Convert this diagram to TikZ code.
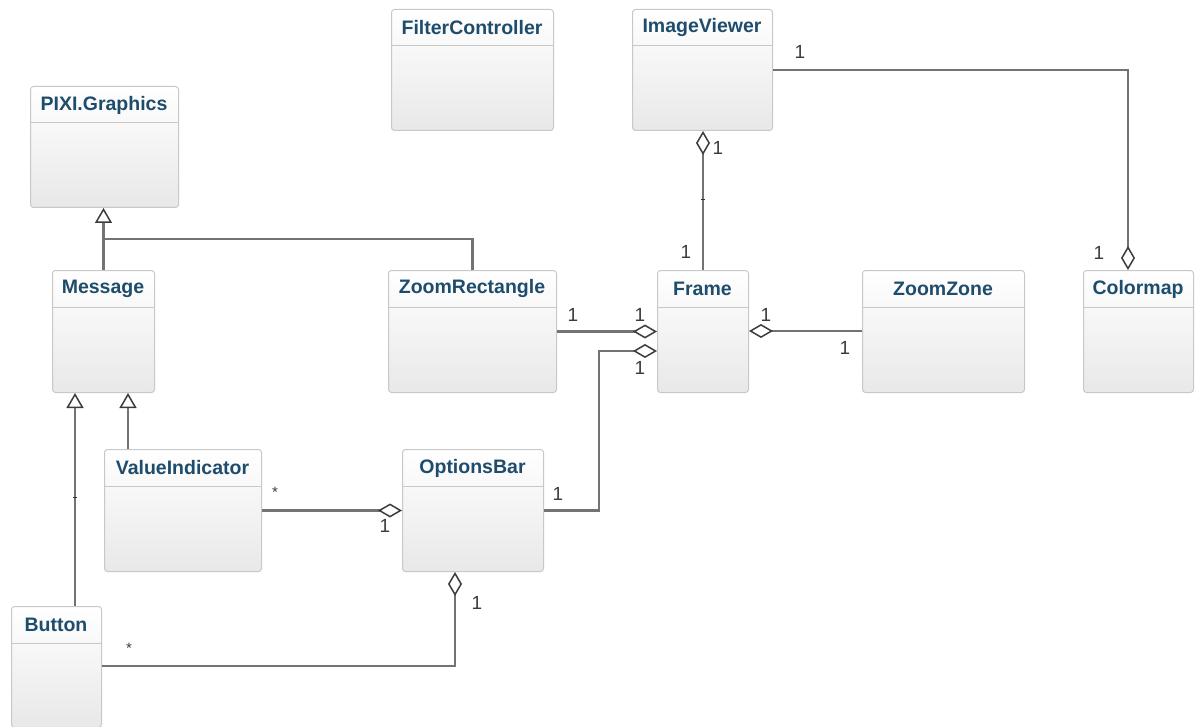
\documentclass[tikz,border=0pt]{standalone}
\usepackage{fontspec}
\setmainfont{Liberation Sans}
\usetikzlibrary{arrows.meta,calc}

\definecolor{titleblue}{RGB}{30,76,108}
\definecolor{edgegray}{RGB}{115,115,115}
\definecolor{boxline}{RGB}{200,200,200}
\definecolor{tipline}{RGB}{60,60,60}
\definecolor{multgray}{RGB}{60,60,60}

\tikzset{
  classbox/.style={draw=boxline, line width=1pt, rounded corners=3pt,
    top color=white, bottom color=black!9, anchor=north west, inner sep=0pt},
  classtitle/.style={font=\bfseries\fontsize{19.5}{19.5}\selectfont, text=titleblue, inner sep=0pt},
  assoc/.style={draw=edgegray, line width=2.6pt},
  agg/.style={assoc, -{Diamond[fill=white, color=tipline, length=24pt, width=14pt, line width=1.5pt]}},
  gen/.style={assoc, -{Triangle[fill=white, color=tipline, length=15pt, width=17pt, line width=1.5pt]}},
  mult/.style={font=\fontsize{19}{19}\selectfont, text=multgray, inner sep=0pt},
  star/.style={font=\fontsize{15}{15}\selectfont, text=multgray, inner sep=0pt},
  tick/.style={draw=black!80, line width=1pt},
}

% \umlclass{name}{x1}{y1}{x2}{y2}{title}: class box with an empty body
\newcommand\umlclass[6]{%
  \node[classbox, minimum width={(#4-#2)*1pt}, minimum height={(#5-#3)*1pt}] (#1) at (#2,#3) {};
  \draw[boxline, line width=1pt] (#2,#3+37) -- (#4,#3+37);
  \node[classtitle] (#1-title) at ({(#2+#4)/2},#3+19) {#6};
}

\begin{document}
\begin{tikzpicture}[x=1pt, y=-1pt]
  \useasboundingbox[fill=white] (0,0) rectangle (1198,727);

  % classes
  \umlclass{filter}{391}{9}{553}{130}{FilterController}
  \umlclass{viewer}{632}{9}{772}{130}{ImageViewer}
  \umlclass{pixi}{30}{86}{178}{207}{PIXI.Graphics}
  \umlclass{message}{52}{270}{154}{392}{Message}
  \umlclass{zoomrect}{388}{270}{556}{392}{ZoomRectangle}
  \umlclass{frame}{657}{270}{748}{392}{Frame}
  \umlclass{zoomzone}{862}{270}{1024}{392}{ZoomZone}
  \umlclass{colormap}{1083}{270}{1193}{392}{Colormap}
  \umlclass{valueind}{104}{449}{261}{571}{ValueIndicator}
  \umlclass{options}{402}{449}{543}{571}{OptionsBar}
  \umlclass{button}{11}{606}{101}{727}{Button}

  % junction points of the routed connectors
  \coordinate (genjoin) at (103,239);
  \coordinate (optbend) at (599,351);
  \coordinate (cmapx) at (1128,0);
  \coordinate (btnx) at (455,0);

  % generalisations
  \draw[gen] (message.north) -- (message.north |- pixi.south);
  \draw[assoc] (zoomrect.north) |- (genjoin);
  \draw[gen] (75,0 |- button.north) -- (75,0 |- message.south);
  \draw[gen] (128,0 |- valueind.north) -- (128,0 |- message.south);

  % aggregations
  \draw[agg] (zoomrect.east) -- (frame.west |- zoomrect.east);
  \draw[agg] (options.east) -| (optbend) -- (optbend -| frame.west);
  \draw[agg] (zoomzone.west |- 0,331) -- (frame.east |- 0,331);
  \draw[agg] (frame.north) -- (frame.north |- viewer.south);
  \draw[agg] (viewer.east) -| (cmapx |- colormap.north);
  \draw[agg] (valueind.east) -- (options.west |- valueind.east);
  \draw[agg] (button.east |- 0,666) -| (btnx |- options.south);

  % small marks on the lines
  \draw[tick] (73,497) -- (77,497);
  \draw[tick] (700.5,200) -- (704.5,200);

  % multiplicities
  \node[mult] (m-viewer-c) at (800,52) {1};
  \node[mult] (m-cmap) at (1099,253) {1};
  \node[mult] (m-viewer-f) at (718,148) {1};
  \node[mult] (m-frame-v) at (686,252) {1};
  \node[mult] (m-zr) at (573,315) {1};
  \node[mult] (m-frame-zr) at (640,315) {1};
  \node[mult] (m-frame-ob) at (640,368) {1};
  \node[mult] (m-frame-zz) at (766,315) {1};
  \node[mult] (m-zz) at (845,348) {1};
  \node[mult] (m-ob-f) at (558,494) {1};
  \node[star] (m-vi) at (275,492) {*};
  \node[mult] (m-ob-vi) at (385,526) {1};
  \node[mult] (m-ob-b) at (477,603) {1};
  \node[star] (m-btn) at (129,648) {*};
\end{tikzpicture}
\end{document}
